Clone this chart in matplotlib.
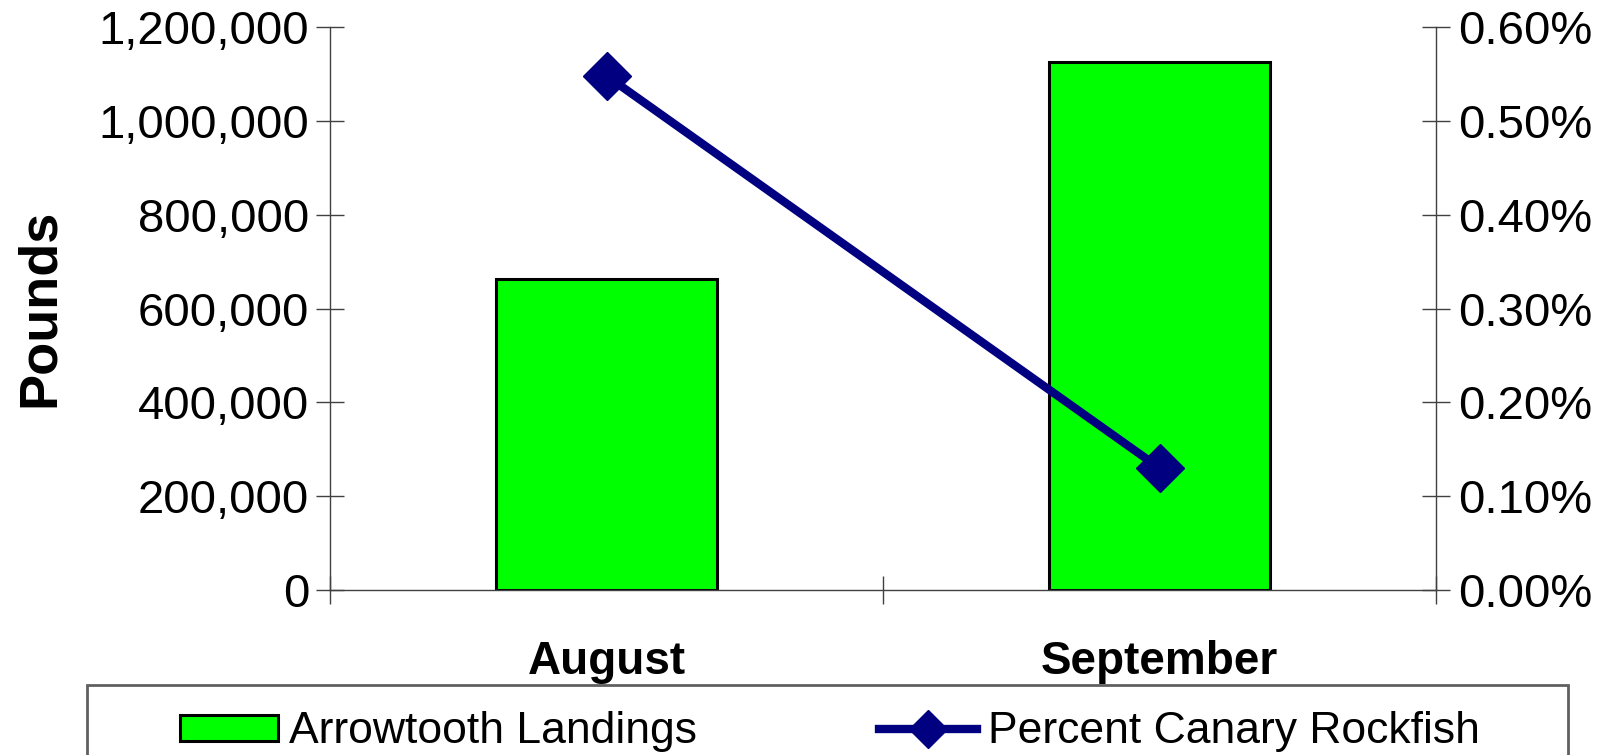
import numpy as np
import matplotlib.pyplot as plt
from matplotlib.patches import Rectangle
from matplotlib.ticker import FuncFormatter, FixedLocator

plt.rcParams['font.family'] = ['Liberation Sans', 'DejaVu Sans']

months = ['August', 'September']
landings = [663000, 1125000]          # pounds
pct_canary = [0.00548, 0.00130]       # fraction

W, H = 1614, 755
fig = plt.figure(figsize=(W/100, H/100), dpi=100)
ax = fig.add_axes([330/W, 1-590/H, (1436-330)/W, (590-27)/H])
ax2 = ax.twinx()

x = np.arange(len(months))
ax.bar(x, landings, width=0.4, color='#00ff00', edgecolor='black',
       linewidth=2.2, zorder=2, label='Arrowtooth Landings')
ax2.plot(x, pct_canary, color='#000080', linewidth=6, marker='D',
         markersize=24, label='Percent Canary Rockfish', zorder=3)

ax.set_xlim(-0.5, len(months) - 0.5)
ax.set_ylim(0, 1200000)
ax2.set_ylim(0, 0.006)
ax.set_yticks(np.arange(0, 1200001, 200000))
ax2.set_yticks(np.arange(0, 0.00601, 0.001))
ax.yaxis.set_major_formatter(FuncFormatter(lambda v, p: f'{v:,.0f}'))
ax2.yaxis.set_major_formatter(FuncFormatter(lambda v, p: f'{v*100:.2f}%'))

spine_c = '#404040'

# category boundaries as major ticks, names as minor ticks
ax.xaxis.set_major_locator(FixedLocator(np.arange(-0.5, len(months), 1.0)))
ax.xaxis.set_major_formatter(FuncFormatter(lambda v, p: ''))
ax.xaxis.set_minor_locator(FixedLocator(x))
ax.set_xticklabels(months, minor=True, fontsize=33, fontweight='bold')
ax.tick_params(axis='x', which='major', direction='inout', length=20,
               width=1, color=spine_c)
ax.tick_params(axis='x', which='minor', length=0, pad=36)

for a in (ax, ax2):
    a.spines['top'].set_visible(False)
    for s in a.spines.values():
        s.set_color(spine_c)
        s.set_linewidth(1)
ax.spines['right'].set_visible(False)
ax2.spines['left'].set_visible(False)
ax2.spines['bottom'].set_visible(False)

ax.tick_params(axis='y', direction='inout', length=20, width=1,
               color=spine_c, labelsize=34, pad=5)
ax2.tick_params(axis='y', direction='inout', length=20, width=1,
                color=spine_c, labelsize=34, pad=6)

fig.text(40/W, 1-308/H, 'Pounds', rotation=90, fontsize=39,
         fontweight='bold', ha='center', va='center')

# legend box (runs off the bottom of the picture)
fig.patches.append(Rectangle((87/W, -0.05), (1568-87)/W, 1-685/H+0.05,
                             transform=fig.transFigure, facecolor='none',
                             edgecolor='#606060', linewidth=2))
h1, l1 = ax.get_legend_handles_labels()
h2, l2 = ax2.get_legend_handles_labels()
fig.legend(h1 + h2, l1 + l2, loc='center left',
           bbox_to_anchor=(180/W, 1-732/H), ncol=2, frameon=False,
           fontsize=32, borderpad=0, borderaxespad=0, handlelength=2.2,
           handleheight=0.52, handletextpad=0.25, columnspacing=4.1,
           markerscale=0.8)

fig.savefig('out.png', dpi=100)
